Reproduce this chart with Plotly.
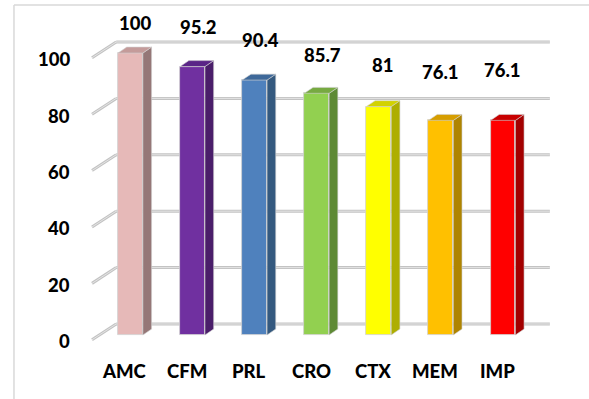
import plotly.graph_objects as go

# ---- data ----
categories = ["AMC", "CFM", "PRL", "CRO", "CTX", "MEM", "IMP"]
values = [100, 95.2, 90.4, 85.7, 81, 76.1, 76.1]
y_ticks = [0, 20, 40, 60, 80, 100]

# ---- styling ----
front_colors = ["#E6B9B8", "#7030A0", "#4F81BD", "#92D050", "#FFFF00", "#FFC000", "#FF0000"]
side_colors = ["#957777", "#4A1E6A", "#34597F", "#5E8A35", "#AEAE00", "#AF8400", "#A30000"]
top_colors = ["#C49B9A", "#5A2587", "#3E6899", "#77AA41", "#D2D200", "#D69E00", "#C80000"]
label_lift = [10.6, 14.0, 14.2, 13.6, 14.7, 17.2, 17.9]   # value-label offsets
label_shift = [0.07, 0.09, 0.09, 0.1, 0.06, 0.0, 0.0]

FONT = "Lato"
FONT_SIZE = 18.5
FONT_WEIGHT = 900
BAR_W = 0.40
DEPTH_X, DEPTH_Y = 0.14, 2.1          # bar depth projection (data units)
WALL_X, WALL_Y = 0.27, 3.9            # back wall offset from bar front plane
FLOOR_X, FLOOR_Y = -0.39, -5.6        # front edge of the floor/wall diagonals
WALL_RIGHT = 6.755

fig = go.Figure()

# back wall gridlines and the short diagonals on the left
shapes = []
for v in y_ticks:
    x_back = -0.5 + WALL_X
    pts = [(x_back + FLOOR_X, v + WALL_Y + FLOOR_Y), (x_back, v + WALL_Y), (WALL_RIGHT, v + WALL_Y)]
    for (xa, ya), (xb, yb) in zip(pts[:-1], pts[1:]):
        shapes.append(dict(type="line", xref="x", yref="y", x0=xa, y0=ya, x1=xb, y1=yb,
                           layer="below", line=dict(color="#C3C3C3", width=3)))
        shapes.append(dict(type="line", xref="x", yref="y", x0=xa, y0=ya, x1=xb, y1=yb,
                           layer="below", line=dict(color="#E4E4E4", width=1)))

# outer chart frame
shapes.append(dict(type="line", xref="x", yref="y", x0=-1.877, y0=-30, x1=-1.877, y1=117,
                   layer="below", line=dict(color="#D9D9D9", width=1.5)))
shapes.append(dict(type="line", xref="x", yref="y", x0=-1.877, y0=117, x1=8, y1=117,
                   layer="below", line=dict(color="#D9D9D9", width=1.5)))

# front faces
fig.add_trace(go.Bar(
    x=list(range(len(categories))), y=values, width=BAR_W,
    marker=dict(color=front_colors, line=dict(color="#D0D0D0", width=0.8)),
    hoverinfo="skip", showlegend=False,
))

# side and top faces
for i, v in enumerate(values):
    x0, x1 = i - BAR_W / 2, i + BAR_W / 2
    fig.add_trace(go.Scatter(
        x=[x1, x1, x1 + DEPTH_X, x1 + DEPTH_X, x1],
        y=[0, v, v + DEPTH_Y, DEPTH_Y, 0],
        mode="lines", fill="toself", fillcolor=side_colors[i],
        line=dict(color="#D0D0D0", width=0.6), hoverinfo="skip", showlegend=False,
    ))
    fig.add_trace(go.Scatter(
        x=[x0, x1, x1 + DEPTH_X, x0 + DEPTH_X, x0],
        y=[v, v, v + DEPTH_Y, v + DEPTH_Y, v],
        mode="lines", fill="toself", fillcolor=top_colors[i],
        line=dict(color="#D0D0D0", width=0.6), hoverinfo="skip", showlegend=False,
    ))

label_font = dict(family=FONT, size=FONT_SIZE, color="#000000", weight=FONT_WEIGHT)
annotations = []
# value labels
for i, v in enumerate(values):
    annotations.append(dict(x=i + label_shift[i], y=v + label_lift[i], xref="x", yref="y",
                            text=f"{v:g}", showarrow=False, font=label_font))
# category labels
for i, c in enumerate(categories):
    annotations.append(dict(x=i - 0.09, y=-12.8, xref="x", yref="y", text=c,
                            showarrow=False, font=label_font))
# value axis labels
for v in y_ticks:
    annotations.append(dict(x=-0.94, y=v - 2.2, xref="x", yref="y", text=str(v),
                            xanchor="right", showarrow=False, font=label_font))

fig.update_layout(
    width=589, height=399, autosize=False,
    margin=dict(l=0, r=0, t=0, b=0),
    paper_bgcolor="white", plot_bgcolor="white",
    xaxis=dict(range=[-2.102, 7.386], visible=False, fixedrange=True),
    yaxis=dict(range=[-22.70, 118.79], visible=False, fixedrange=True),
    shapes=shapes, annotations=annotations, bargap=0,
)

fig.write_html("out.html")
